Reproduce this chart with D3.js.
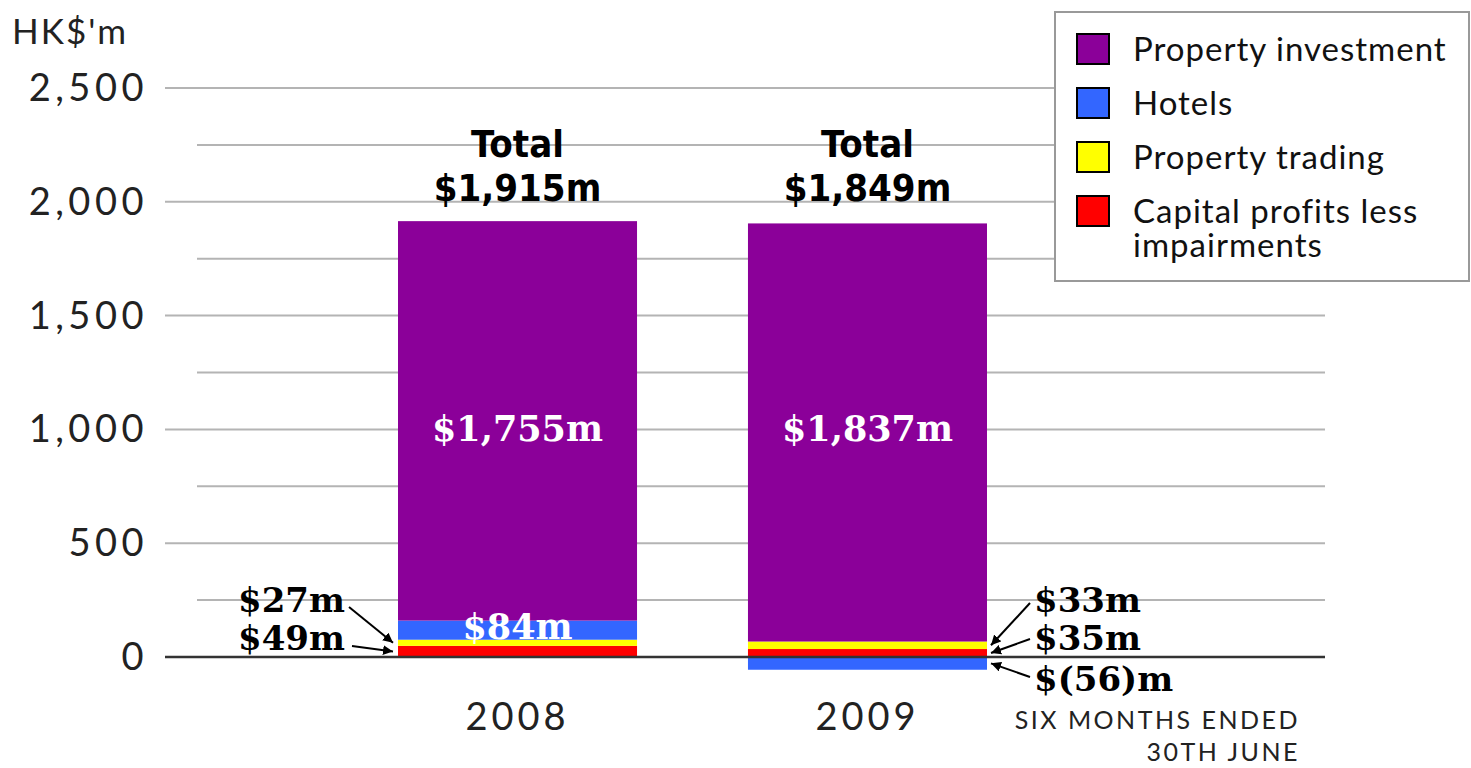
<!DOCTYPE html>
<html>
<head>
<meta charset="utf-8">
<script src="https://cdn.jsdelivr.net/npm/d3@7"></script>
<style>
  body { margin: 0; background: #fff; }
  svg { display: block; }
</style>
</head>
<body>
<svg></svg>
<script>
// Segment profit chart, six months ended 30th June
const width = 1471;
const height = 768;

const years = ["2008", "2009"];
const series = ["Capital profits less impairments", "Property trading", "Hotels", "Property investment"];
const colors = ["#ff0000", "#ffff00", "#3366ff", "#8b0099"];
const capitalProfits = [49, 35];
const propertyTrading = [27, 33];
const hotels = [84, -56];
const propertyInvestment = [1755, 1837];
const totals = ["$1,915m", "$1,849m"];
const yTicks = [0, 500, 1000, 1500, 2000, 2500];
const gridTicks = [250, 750, 1250, 1750, 2250];

const svg = d3.select("svg")
    .attr("width", width)
    .attr("height", height);

const x = d3.scaleBand().domain(years).range([398, 987]).paddingInner(0.317).paddingOuter(0);
const y = d3.scaleLinear().domain([0, 2500]).range([657, 88]);

const serif = "'DejaVu Serif', 'Liberation Serif', serif";
const sans = "'Lato', 'Open Sans', sans-serif";
const cond = "'DejaVu Sans Condensed', 'DejaVu Sans', sans-serif";

// gridlines
svg.append("g").selectAll("line")
    .data(yTicks.filter(d => d !== 0))
    .enter().append("line")
    .attr("x1", 165).attr("x2", 1325)
    .attr("y1", d => y(d)).attr("y2", d => y(d))
    .attr("stroke", "#b4b4b4").attr("stroke-width", 2);
svg.append("g").selectAll("line")
    .data(gridTicks)
    .enter().append("line")
    .attr("x1", 197).attr("x2", 1325)
    .attr("y1", d => y(d)).attr("y2", d => y(d))
    .attr("stroke", "#b4b4b4").attr("stroke-width", 2);

// y labels
svg.append("g").selectAll("text")
    .data(yTicks)
    .enter().append("text")
    .attr("x", 148).attr("y", d => y(d) + 13)
    .attr("text-anchor", "end")
    .style("font-family", sans).style("font-size", "38px").style("fill", "#222")
    .style("letter-spacing", "4.5px")
    .text(d => d3.format(",")(d));

svg.append("text").attr("x", 12).attr("y", 44)
    .style("font-family", sans).style("font-size", "35px").style("fill", "#222")
    .style("letter-spacing", "2px")
    .text("HK$'m");

// stacked data
const rows = years.map((yr, i) => ({
    year: yr,
    values: [capitalProfits[i], propertyTrading[i], hotels[i], propertyInvestment[i]]
}));
const segs = [];
rows.forEach(r => {
    let pos = 0, neg = 0;
    r.values.forEach((v, k) => {
        let y0, y1;
        if (v >= 0) { y0 = pos; y1 = pos + v; pos = y1; }
        else { y0 = neg + v; y1 = neg; neg = y0; }
        segs.push({ year: r.year, k, v, y0, y1 });
    });
});

svg.append("g").selectAll("rect")
    .data(segs)
    .enter().append("rect")
    .attr("x", d => x(d.year))
    .attr("width", x.bandwidth())
    .attr("y", d => y(d.y1))
    .attr("height", d => y(d.y0) - y(d.y1))
    .attr("fill", d => colors[d.k]);

// zero line
svg.append("line")
    .attr("x1", 165).attr("x2", 1325)
    .attr("y1", y(0)).attr("y2", y(0))
    .attr("stroke", "#333").attr("stroke-width", 2.5);

// category labels
svg.append("g").selectAll("text")
    .data(years)
    .enter().append("text")
    .attr("x", d => x(d) + x.bandwidth() / 2)
    .attr("y", 730)
    .attr("text-anchor", "middle")
    .style("font-family", sans).style("font-size", "38px").style("fill", "#222")
    .style("letter-spacing", "4px")
    .text(d => d);

svg.append("text").attr("x", 1300).attr("y", 729).attr("text-anchor", "end")
    .style("font-family", sans).style("font-size", "25px").style("fill", "#222")
    .style("letter-spacing", "2.5px")
    .text("SIX MONTHS ENDED");
svg.append("text").attr("x", 1300).attr("y", 761).attr("text-anchor", "end")
    .style("font-family", sans).style("font-size", "25px").style("fill", "#222")
    .style("letter-spacing", "2.5px")
    .text("30TH JUNE");

// totals
years.forEach((yr, i) => {
    const cx = x(yr) + x.bandwidth() / 2;
    svg.append("text").attr("x", cx).attr("y", 157).attr("text-anchor", "middle")
        .style("font-family", cond).style("font-weight", "bold").style("font-size", "38px")
        .text("Total");
    svg.append("text").attr("x", cx).attr("y", 201).attr("text-anchor", "middle")
        .style("font-family", cond).style("font-weight", "bold").style("font-size", "38px")
        .text(totals[i]);
});

// inside labels
const fmt = v => v < 0 ? `$(${d3.format(",")(-v)})m` : `$${d3.format(",")(v)}m`;
svg.append("g").selectAll("text")
    .data(segs.filter(d => d.k === 3 || (d.k === 2 && d.year === "2008")))
    .enter().append("text")
    .attr("x", d => x(d.year) + x.bandwidth() / 2)
    .attr("y", d => d.k === 3 ? y(1000) + 12 : y(d.y1) + 18)
    .attr("text-anchor", "middle")
    .style("font-family", serif).style("font-weight", "bold").style("font-size", "35px")
    .style("fill", "#fff")
    .text(d => fmt(d.v));

// callouts with arrows
svg.append("defs").append("marker")
    .attr("id", "arr").attr("viewBox", "0 0 10 10")
    .attr("refX", 10).attr("refY", 5)
    .attr("markerWidth", 5).attr("markerHeight", 5)
    .attr("orient", "auto")
    .append("path").attr("d", "M0,0L10,5L0,10z").attr("fill", "#000");

const callouts = [
    { year: "2008", k: 1, side: "left", ly: 612, ax: 349, ay: 607 },
    { year: "2008", k: 0, side: "left", ly: 650, ax: 352, ay: 646 },
    { year: "2009", k: 1, side: "right", ly: 612, ax: 1030, ay: 603 },
    { year: "2009", k: 0, side: "right", ly: 650, ax: 1030, ay: 639 },
    { year: "2009", k: 2, side: "right", ly: 691, ax: 1030, ay: 677 }
];
callouts.forEach(c => {
    const s = segs.find(d => d.year === c.year && d.k === c.k);
    const ex = c.side === "left" ? x(c.year) - 5 : x(c.year) + x.bandwidth() + 4;
    const ey = (y(s.y0) + y(s.y1)) / 2;
    svg.append("line")
        .attr("x1", c.ax).attr("y1", c.ay).attr("x2", ex).attr("y2", ey)
        .attr("stroke", "#000").attr("stroke-width", 2)
        .attr("marker-end", "url(#arr)");
    svg.append("text")
        .attr("x", c.side === "left" ? 345 : 1034).attr("y", c.ly)
        .attr("text-anchor", c.side === "left" ? "end" : "start")
        .style("font-family", serif).style("font-weight", "bold").style("font-size", "34px")
        .text(fmt(s.v));
});

// legend
const legend = svg.append("g");
legend.append("rect").attr("x", 1055).attr("y", 12).attr("width", 414).attr("height", 269)
    .attr("fill", "#fff").attr("stroke", "#999").attr("stroke-width", 2);
const legendItems = [3, 2, 1, 0];
const legendY = [50, 104, 158, 212];
legendItems.forEach((k, i) => {
    legend.append("rect").attr("x", 1077).attr("y", legendY[i] - 16).attr("width", 32).attr("height", 30)
        .attr("fill", colors[k]).attr("stroke", "#000").attr("stroke-width", 2);
    const t = legend.append("text").attr("x", 1133).attr("y", legendY[i] + 11)
        .style("font-family", sans).style("font-size", "33px").style("fill", "#111")
        .style("letter-spacing", "1px");
    if (k === 0) {
        t.append("tspan").attr("x", 1133).text("Capital profits less");
        t.append("tspan").attr("x", 1133).attr("dy", 34).text("impairments");
    } else {
        t.text(series[k]);
    }
});
</script>
</body>
</html>
